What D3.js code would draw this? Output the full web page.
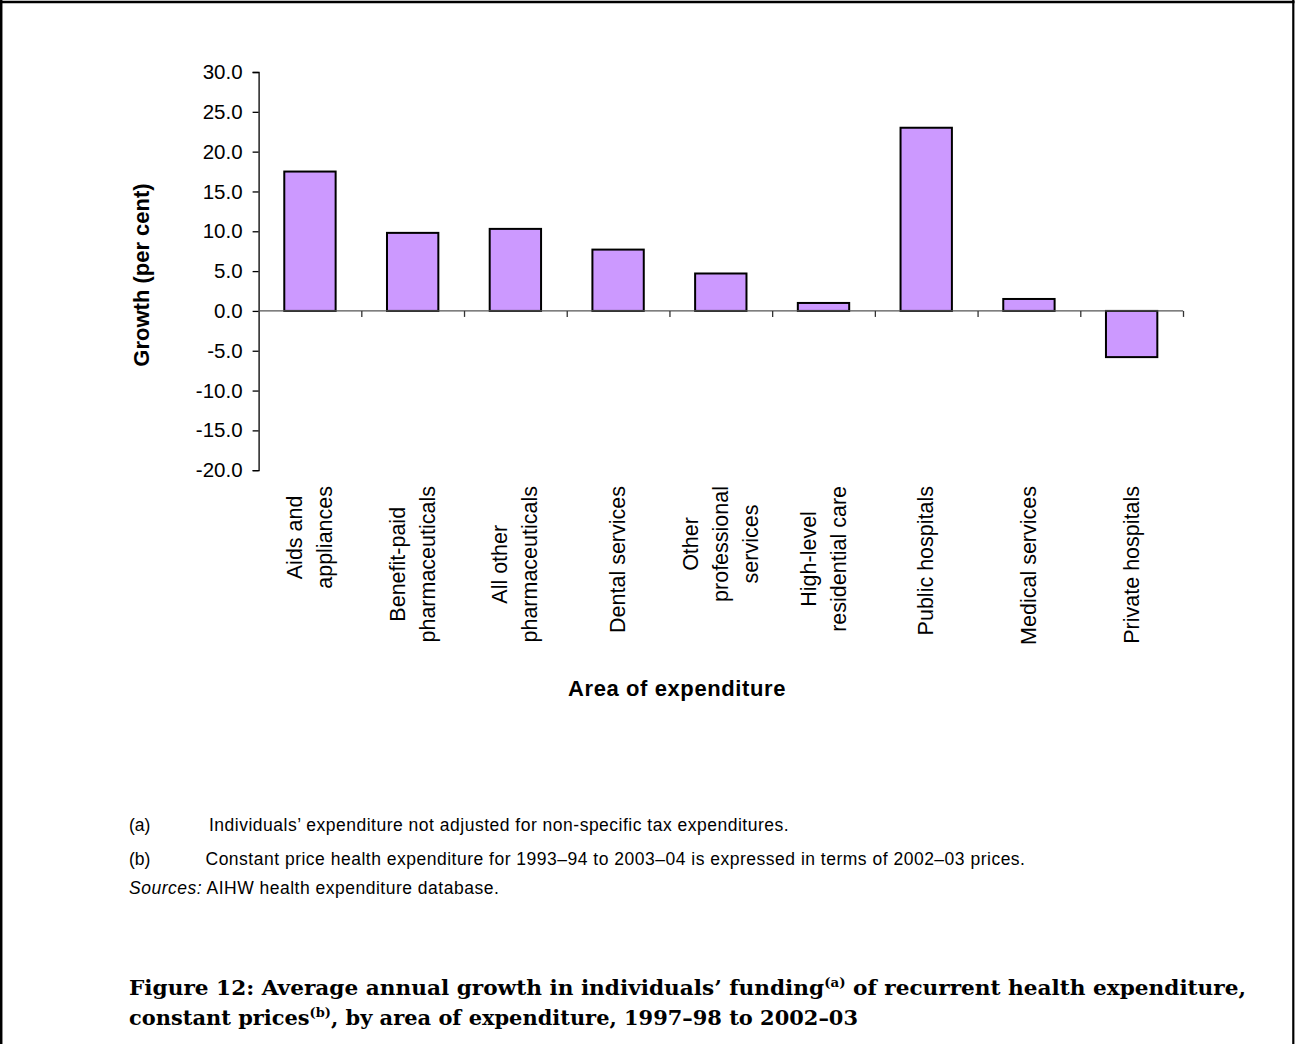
<!DOCTYPE html>
<html>
<head>
<meta charset="utf-8">
<script src="https://cdn.jsdelivr.net/npm/d3@7/dist/d3.min.js"></script>
<style>
  html, body { margin: 0; padding: 0; background: #fff; }
  svg { display: block; }
</style>
</head>
<body>
<svg id="chart" width="1295" height="1044"></svg>
<script>
// ---- data ----
const categories = [
  ["Aids and", "appliances"],
  ["Benefit-paid", "pharmaceuticals"],
  ["All other", "pharmaceuticals"],
  ["Dental services"],
  ["Other", "professional", "services"],
  ["High-level", "residential care"],
  ["Public hospitals"],
  ["Medical services"],
  ["Private hospitals"]
];
const growth = [17.5, 9.8, 10.3, 7.7, 4.7, 1.0, 23.0, 1.5, -5.8];
const yTicks = [30, 25, 20, 15, 10, 5, 0, -5, -10, -15, -20];
const yTitle = "Growth (per cent)";
const xTitle = "Area of expenditure";
const notes = [
  ["(a)", "Individuals\u2019 expenditure not adjusted for non-specific tax expenditures."],
  ["(b)", "Constant price health expenditure for 1993\u201394 to 2003\u201304 is expressed in terms of 2002\u201303 prices."]
];
const sourceLabel = "Sources:";
const sourceText = " AIHW health expenditure database.";
const titleLine1 = ["Figure 12: Average annual growth in individuals\u2019 funding", "(a)", " of recurrent health expenditure,"];
const titleLine2 = ["constant prices", "(b)", ", by area of expenditure, 1997\u201398 to 2002\u201303"];

// ---- drawing ----
const svg = d3.select("#chart");
const W = 1295, H = 1044;
const sans = "'Liberation Sans', Arial, sans-serif";

// frame
svg.append("line").attr("x1", 0).attr("x2", 1294.5).attr("y1", 2).attr("y2", 2)
  .attr("stroke", "#000").attr("stroke-width", 2.5);
svg.append("line").attr("x1", 1.2).attr("x2", 1.2).attr("y1", 0).attr("y2", H)
  .attr("stroke", "#000").attr("stroke-width", 2.5);
svg.append("line").attr("x1", 1293.3).attr("x2", 1293.3).attr("y1", 0).attr("y2", H)
  .attr("stroke", "#000").attr("stroke-width", 2.2);

const x0 = 258.6, x1 = 1183;
const y = d3.scaleLinear().domain([-20, 30]).range([470.2, 72]);
const x = d3.scaleBand().domain(d3.range(categories.length)).range([x0, x1])
  .paddingInner(0.5).paddingOuter(0.25);

// y axis
const yAxis = d3.axisLeft(y).tickValues(yTicks).tickSize(6).tickPadding(10)
  .tickFormat(d => d.toFixed(1));
const gy = svg.append("g").attr("transform", `translate(${x0},0)`).call(yAxis);
gy.select(".domain").attr("stroke", "#000").attr("stroke-width", 1.3);
gy.selectAll(".tick line").attr("stroke", "#000").attr("stroke-width", 1.3);
gy.selectAll(".tick text").attr("font-family", sans).attr("font-size", 20.5)
  .attr("fill", "#000");

// bars
svg.append("g").selectAll("rect").data(growth).join("rect")
  .attr("x", (d, i) => x(i))
  .attr("width", x.bandwidth())
  .attr("y", d => y(Math.max(0, d)))
  .attr("height", d => Math.abs(y(d) - y(0)))
  .attr("fill", "#CC99FF")
  .attr("stroke", "#000")
  .attr("stroke-width", 2);

// zero axis with ticks at category boundaries
const step = x.step();
const boundaries = d3.range(categories.length + 1).map(i => x0 + i * step);
const xb = d3.scaleLinear().domain([x0, x1]).range([x0, x1]);
const xAxis = d3.axisBottom(xb).tickValues(boundaries.slice(1)).tickSize(6).tickFormat("");
const gx = svg.append("g").attr("transform", `translate(0,${y(0)})`).call(xAxis);
gx.select(".domain").attr("stroke", "#555").attr("stroke-width", 1.3)
  .attr("d", `M${x0},0H${x1}`);
gx.selectAll(".tick line").attr("stroke", "#333").attr("stroke-width", 1.3);

// category labels (rotated, centered lines, top at y=486)
const labelTop = 486, lineGap = 30, labelSize = 21.5;
categories.forEach((lines, i) => {
  const cx = x(i) + x.bandwidth() / 2;
  const g = svg.append("g");
  const texts = lines.map((t, j) => g.append("text")
    .attr("font-family", sans).attr("font-size", labelSize).attr("fill", "#000")
    .attr("text-anchor", "middle").text(t));
  const maxLen = d3.max(texts, t => t.node().getComputedTextLength());
  const cy = labelTop + maxLen / 2;
  const n = lines.length;
  texts.forEach((t, j) => {
    const lx = cx + (j - (n - 1) / 2) * lineGap + labelSize * 0.33;
    t.attr("transform", `translate(${lx},${cy}) rotate(-90)`);
  });
});

// axis titles
svg.append("text").attr("font-family", sans).attr("font-weight", "bold")
  .attr("font-size", 22).attr("text-anchor", "middle")
  .attr("transform", `translate(${148.5},${275}) rotate(-90)`)
  .text(yTitle);
svg.append("text").attr("font-family", sans).attr("font-weight", "bold")
  .attr("font-size", 22).attr("letter-spacing", 0.6).attr("text-anchor", "middle")
  .attr("x", 677).attr("y", 696).text(xTitle);

// notes
const noteY = [831, 865];
const noteX = [209, 205.5];
const noteSize = 17.5, noteSpacing = 0.5;
notes.forEach((n, i) => {
  svg.append("text").attr("font-family", sans).attr("font-size", noteSize)
    .attr("x", 129).attr("y", noteY[i]).text(n[0]);
  svg.append("text").attr("font-family", sans).attr("font-size", noteSize)
    .attr("letter-spacing", noteSpacing)
    .attr("x", noteX[i]).attr("y", noteY[i]).text(n[1]);
});
const src = svg.append("text").attr("font-family", sans).attr("font-size", noteSize)
  .attr("letter-spacing", noteSpacing).attr("x", 129).attr("y", 894);
src.append("tspan").attr("font-style", "italic").text(sourceLabel);
src.append("tspan").text(sourceText);

// figure title
const serif = "'DejaVu Serif', 'Liberation Serif', serif";
function titleLine(parts, yPos, width) {
  const t = svg.append("text").attr("font-family", serif).attr("font-weight", "bold")
    .attr("font-size", 21).attr("x", 129).attr("y", yPos)
    .attr("textLength", width).attr("lengthAdjust", "spacingAndGlyphs");
  t.append("tspan").text(parts[0]);
  t.append("tspan").attr("font-size", 13).attr("dy", -8).text(parts[1]);
  t.append("tspan").attr("dy", 8).text(parts[2]);
}
titleLine(titleLine1, 995, 1117);
titleLine(titleLine2, 1025, 729);
</script>
</body>
</html>
